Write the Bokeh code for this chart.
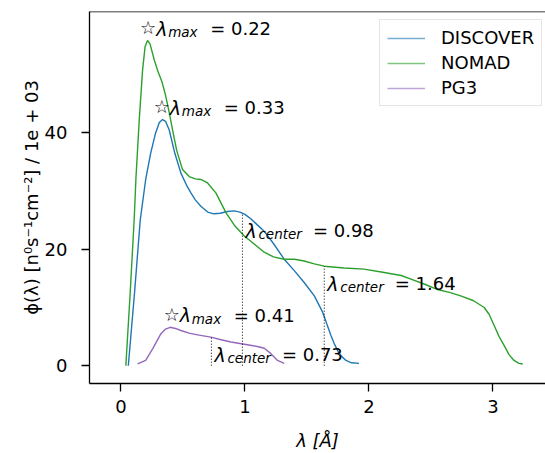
import numpy as np
from bokeh.plotting import figure
from bokeh.models import Range1d, Span, Legend, LegendItem, FixedTicker
from bokeh.core.properties import value
from bokeh.embed import file_html
from bokeh.resources import INLINE

# ---------------- data ----------------
series_names = ["DISCOVER", "NOMAD", "PG3"]
colors = ["#1f77b4", "#2ca02c", "#9467bd"]

discover_x = [0.06, 0.11, 0.156, 0.20, 0.24, 0.28, 0.31, 0.336, 0.36, 0.39, 0.435, 0.484,
              0.53, 0.565, 0.60, 0.645, 0.70, 0.75, 0.80, 0.86, 0.914, 0.96, 1.00, 1.05,
              1.10, 1.156, 1.23, 1.317, 1.40, 1.478, 1.56, 1.627, 1.66, 1.694, 1.72, 1.748,
              1.78, 1.815, 1.86, 1.92]
discover_y = [0.0, 12.5, 25.0, 32.0, 36.5, 40.0, 41.8, 42.3, 42.0, 40.5, 36.5, 33.1,
              31.0, 29.7, 28.5, 27.4, 26.4, 26.1, 26.2, 26.5, 26.6, 26.4, 26.0, 25.2,
              24.2, 23.1, 21.0, 18.3, 16.3, 14.3, 12.0, 9.2, 7.2, 5.2, 3.8, 2.6,
              1.6, 0.9, 0.5, 0.4]

nomad_x = [0.04, 0.075, 0.107, 0.121, 0.148, 0.175, 0.195, 0.215, 0.235, 0.27, 0.30, 0.331,
           0.36, 0.39, 0.417, 0.45, 0.497, 0.551, 0.60, 0.645, 0.699, 0.766, 0.847, 0.92,
           0.995, 1.07, 1.156, 1.23, 1.317, 1.40, 1.478, 1.56, 1.64, 1.80, 1.96, 2.10,
           2.26, 2.35, 2.45, 2.55, 2.65, 2.74, 2.84, 2.93, 2.97, 3.01, 3.05, 3.09,
           3.13, 3.17, 3.21, 3.24]
nomad_y = [0.0, 12.5, 25.0, 32.0, 42.2, 50.8, 54.8, 55.9, 55.3, 52.5, 50.5, 48.8,
           46.5, 43.5, 40.5, 37.0, 33.7, 32.5, 32.1, 32.0, 31.4, 29.7, 26.3, 24.0,
           22.3, 21.0, 19.5, 18.7, 18.3, 18.3, 18.0, 17.5, 17.1, 16.8, 16.6, 16.1,
           15.5, 14.8, 14.0, 13.1, 12.6, 12.0, 11.2, 10.0, 8.8, 6.9, 5.0, 3.5,
           1.9, 0.9, 0.4, 0.3]

pg3_x = [0.135, 0.20, 0.256, 0.323, 0.36, 0.398, 0.44, 0.484, 0.55, 0.618, 0.726, 0.80,
         0.887, 1.02, 1.10, 1.156, 1.21, 1.263, 1.317]
pg3_y = [0.3, 0.9, 2.9, 5.5, 6.3, 6.6, 6.4, 6.05, 5.6, 5.3, 4.9, 4.5,
         4.07, 3.6, 3.3, 3.0, 2.07, 0.9, 0.4]

lam_max = [0.33, 0.22, 0.41]
lam_center = [0.98, 1.64, 0.73]

x_ticks = [0, 1, 2, 3]
y_ticks = [0, 20, 40]

xs_all = [discover_x, nomad_x, pg3_x]
ys_all = [discover_y, nomad_y, pg3_y]

FONT = "DejaVu Sans"
FS = "18px"
SUB = "13.5px"

Y_TOP = 60.87
p = figure(width=545, height=453, output_backend="svg", toolbar_location=None,
           x_range=Range1d(-0.253, 3.424), y_range=Range1d(-3.06, Y_TOP),
           min_border_left=89, min_border_right=0, min_border_top=11,
           min_border_bottom=68)
p.outline_line_color = None
p.grid.visible = False
p.background_fill_color = "white"
p.border_fill_color = "white"

for xs, ys, c in zip(xs_all, ys_all, colors):
    p.line(xs, ys, line_color=c, line_width=1.4)


def piece(x, y, txt, dx, dy, size, style, align="left"):
    p.text(x=[x], y=[y], text=[txt], x_offset=dx, y_offset=dy,
           text_font=value(FONT), text_font_size=size, text_font_style=style,
           text_align=align, text_baseline="alphabetic", text_color="black")


for xs, ys, lm, lc in zip(xs_all, ys_all, lam_max, lam_center):
    # lambda max annotation
    ym = max(ys) + 1.0
    piece(lm, ym, "\u2606", 0, -7, FS, "normal", "center")
    piece(lm, ym, "\u03bb", 8, -6, "19px", "italic")
    piece(lm, ym, "max", 20, -2.5, SUB, "italic")
    piece(lm, ym, f"= {lm:.2f}", 62, -6, FS, "normal")
    # lambda center dotted line + annotation
    yc = float(np.interp(lc, xs, ys))
    p.segment(x0=[lc], y0=[0], x1=[lc], y1=[yc], line_color="black",
              line_width=1, line_dash="1 2")
    piece(lc, yc, "\u03bb", 3, 17.4, "19px", "italic")
    piece(lc, yc, "center", 16, 20.9, SUB, "italic")
    piece(lc, yc, f"= {lc:.2f}", 70.5, 17.4, FS, "normal")

# top border
p.add_layout(Span(location=Y_TOP, dimension="width", line_color="black", line_width=1.3))

# axes
p.xaxis.ticker = FixedTicker(ticks=x_ticks)
p.yaxis.ticker = FixedTicker(ticks=y_ticks)
for ax in (p.xaxis, p.yaxis):
    ax.major_tick_out = 8
    ax.major_tick_in = 0
    ax.minor_tick_out = 0
    ax.minor_tick_in = 0
    ax.axis_line_width = 1.3
    ax.major_tick_line_width = 1.3
    ax.axis_line_color = "black"
    ax.major_tick_line_color = "black"
    ax.major_label_text_font = FONT
    ax.major_label_text_font_size = FS
    ax.major_label_text_color = "black"
    ax.axis_label_text_font = FONT
    ax.axis_label_text_font_size = FS
    ax.axis_label_text_color = "black"

p.xaxis.major_label_standoff = 8
p.yaxis.major_label_standoff = 14
p.xaxis.axis_label = "\u03bb [\u00c5]"
p.xaxis.axis_label_text_font_style = "italic"
p.xaxis.axis_label_standoff = 14
p.yaxis.axis_label = "\u03d5(\u03bb) [n\u2070s\u207b\u00b9cm\u207b\u00b2] / 1e + 03"
p.yaxis.axis_label_text_font_style = "normal"
p.yaxis.axis_label_standoff = 0

# legend (swatches slightly lighter, like the reference)
items = []
for name, c, xs, ys in zip(series_names, colors, xs_all, ys_all):
    r = p.line(xs[:1], ys[:1], line_color=c, line_width=1.5, line_alpha=0.6)
    items.append(LegendItem(label=name, renderers=[r]))
legend = Legend(items=items, location=(290, 277))
legend.label_text_font = FONT
legend.label_text_font_size = FS
legend.label_text_color = "black"
legend.glyph_width = 38
legend.glyph_height = 20
legend.label_standoff = 16
legend.padding = 7
legend.spacing = 4
legend.border_line_color = "#cccccc"
legend.border_line_width = 1
legend.background_fill_color = "white"
legend.background_fill_alpha = 0.8
p.add_layout(legend)

open("out.html", "w").write(file_html(p, INLINE))
